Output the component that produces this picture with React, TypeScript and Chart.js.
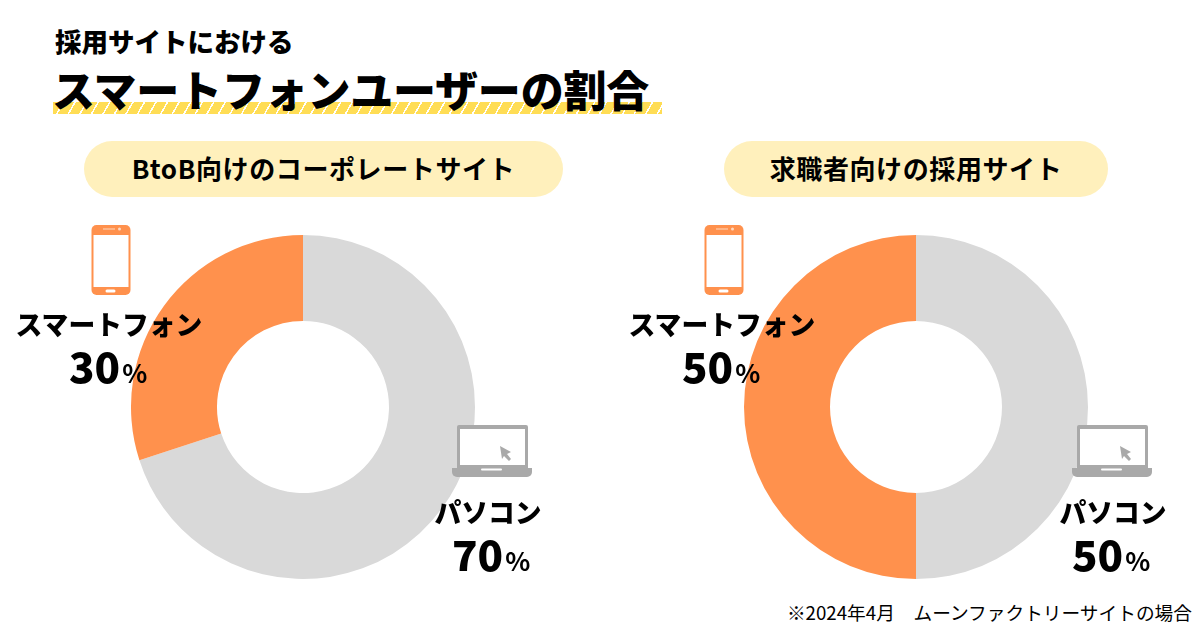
import React, { useEffect, useRef } from "react";
import { Chart, registerables } from "chart.js";

Chart.register(...registerables);

const segmentLabels = ["パソコン", "スマートフォン"];
const leftValues = [70, 30];
const rightValues = [50, 50];
const segmentColors = ["#d9d9d9", "#ff914d"];

const subtitle = "採用サイトにおける";
const title = "スマートフォンユーザーの割合";
const leftHeading = "BtoB向けのコーポレートサイト";
const rightHeading = "求職者向けの採用サイト";
const footnote = "※2024年4月　ムーンファクトリーサイトの場合";

const FONT = '"Noto Sans CJK JP", "Noto Sans", sans-serif';

function Donut({ values, left, top }: { values: number[]; left: number; top: number }) {
  const ref = useRef<HTMLCanvasElement>(null);
  useEffect(() => {
    const chart = new Chart(ref.current!, {
      type: "doughnut",
      data: {
        labels: segmentLabels,
        datasets: [{ data: values, backgroundColor: segmentColors, borderWidth: 0 }],
      },
      options: {
        responsive: false,
        animation: false,
        cutout: "50%",
        layout: { padding: 0 },
        plugins: { legend: { display: false }, tooltip: { enabled: false } },
      },
    });
    return () => chart.destroy();
  }, []);
  return <canvas ref={ref} width={344} height={344} style={{ position: "absolute", left, top, width: 344, height: 344 }} />;
}

function Txt({ x, y, w, size, weight, children, align = "center", spacing = 0 }: any) {
  return (
    <div
      style={{
        position: "absolute",
        left: x,
        top: y,
        width: w,
        fontFamily: FONT,
        fontSize: size,
        fontWeight: weight,
        lineHeight: `${Math.round(size * 1.4)}px`,
        textAlign: align,
        letterSpacing: spacing,
        color: "#000",
        whiteSpace: "nowrap",
      }}
    >
      {children}
    </div>
  );
}

function Phone({ x, y }: { x: number; y: number }) {
  return (
    <svg style={{ position: "absolute", left: x, top: y }} width={40} height={70} viewBox="0 0 40 70">
      <rect x={0.5} y={0} width={39} height={70} rx={5} fill="#ff914d" />
      <rect x={2.5} y={10} width={35} height={52} fill="#fff" />
      <rect x={14.5} y={64.5} width={10} height={3} rx={1.5} fill="#fff" />
      <rect x={12} y={3.5} width={12} height={1} fill="#ffd9c0" />
      <circle cx={28.5} cy={4} r={1.5} fill="#ffd9c0" />
    </svg>
  );
}

function Laptop({ x, y }: { x: number; y: number }) {
  return (
    <svg style={{ position: "absolute", left: x, top: y }} width={82} height={54} viewBox="0 0 82 54">
      <path d="M6 44V3a2 2 0 0 1 2-2h67a2 2 0 0 1 2 2v41z" fill="#a9a9a9" />
      <rect x={9} y={5} width={65} height={36} fill="#fff" />
      <path d="M1 44h80v4a5 5 0 0 1-5 5H6a5 5 0 0 1-5-5z" fill="#a9a9a9" />
      <rect x={30} y={44.5} width={21} height={2} rx={1} fill="#fff" />
      <path d="M49 22l11 6-4 2 4 5-2 2-5-5-2 3z" fill="#a9a9a9" />
    </svg>
  );
}

function Percent({ x, y, value }: { x: number; y: number; value: number }) {
  return (
    <div style={{ position: "absolute", left: x, top: y, fontFamily: FONT, fontWeight: 900, color: "#000", whiteSpace: "nowrap", lineHeight: "50px" }}>
      <span style={{ fontSize: 42 }}>{value}</span>
      <span style={{ fontSize: 26, fontWeight: 700, marginLeft: 2 }}>%</span>
    </div>
  );
}

export default function App() {
  useEffect(() => {
    document.body.style.margin = "0";
    document.body.style.background = "#fff";
  }, []);
  return (
    <div style={{ position: "relative", width: 1200, height: 630, overflow: "hidden", background: "#fff" }}>
      <div
        style={{
          position: "absolute",
          left: 53,
          top: 102,
          width: 609,
          height: 12,
          background: "repeating-linear-gradient(120deg, #ffdd55 0 8.5px, #fff 8.5px 10px)",
        }}
      />
      <Txt x={55} y={22} w={300} size={26.5} weight={900} align="left">{subtitle}</Txt>
      <Txt x={52} y={58} w={620} size={43} weight={900} align="left" spacing={-0.2}>{title}</Txt>

      <div style={{ position: "absolute", left: 84, top: 141, width: 479, height: 56, borderRadius: 28, background: "#fff0bc" }} />
      <div style={{ position: "absolute", left: 724, top: 141, width: 384, height: 56, borderRadius: 28, background: "#fff0bc" }} />
      <Txt x={84} y={150} w={479} size={26} weight={700} spacing={0.6}>{leftHeading}</Txt>
      <Txt x={724} y={150} w={384} size={26} weight={700} spacing={0.6}>{rightHeading}</Txt>

      <Donut values={leftValues} left={131} top={235} />
      <Donut values={rightValues} left={744} top={235} />

      <Phone x={91} y={225} />
      <Txt x={9} y={305} w={200} size={26.8} weight={900}>{segmentLabels[1]}</Txt>
      <Percent x={69} y={340} value={leftValues[1]} />
      <Laptop x={451} y={424} />
      <Txt x={388} y={493} w={200} size={26.8} weight={900}>{segmentLabels[0]}</Txt>
      <Percent x={452} y={528} value={leftValues[0]} />

      <Phone x={704} y={225} />
      <Txt x={622} y={305} w={200} size={26.8} weight={900}>{segmentLabels[1]}</Txt>
      <Percent x={682} y={340} value={rightValues[1]} />
      <Laptop x={1071} y={424} />
      <Txt x={1013} y={493} w={200} size={26.8} weight={900}>{segmentLabels[0]}</Txt>
      <Percent x={1072} y={528} value={rightValues[0]} />

      <Txt x={700} y={599} w={492} size={18.7} weight={400} align="right">{footnote}</Txt>
    </div>
  );
}
